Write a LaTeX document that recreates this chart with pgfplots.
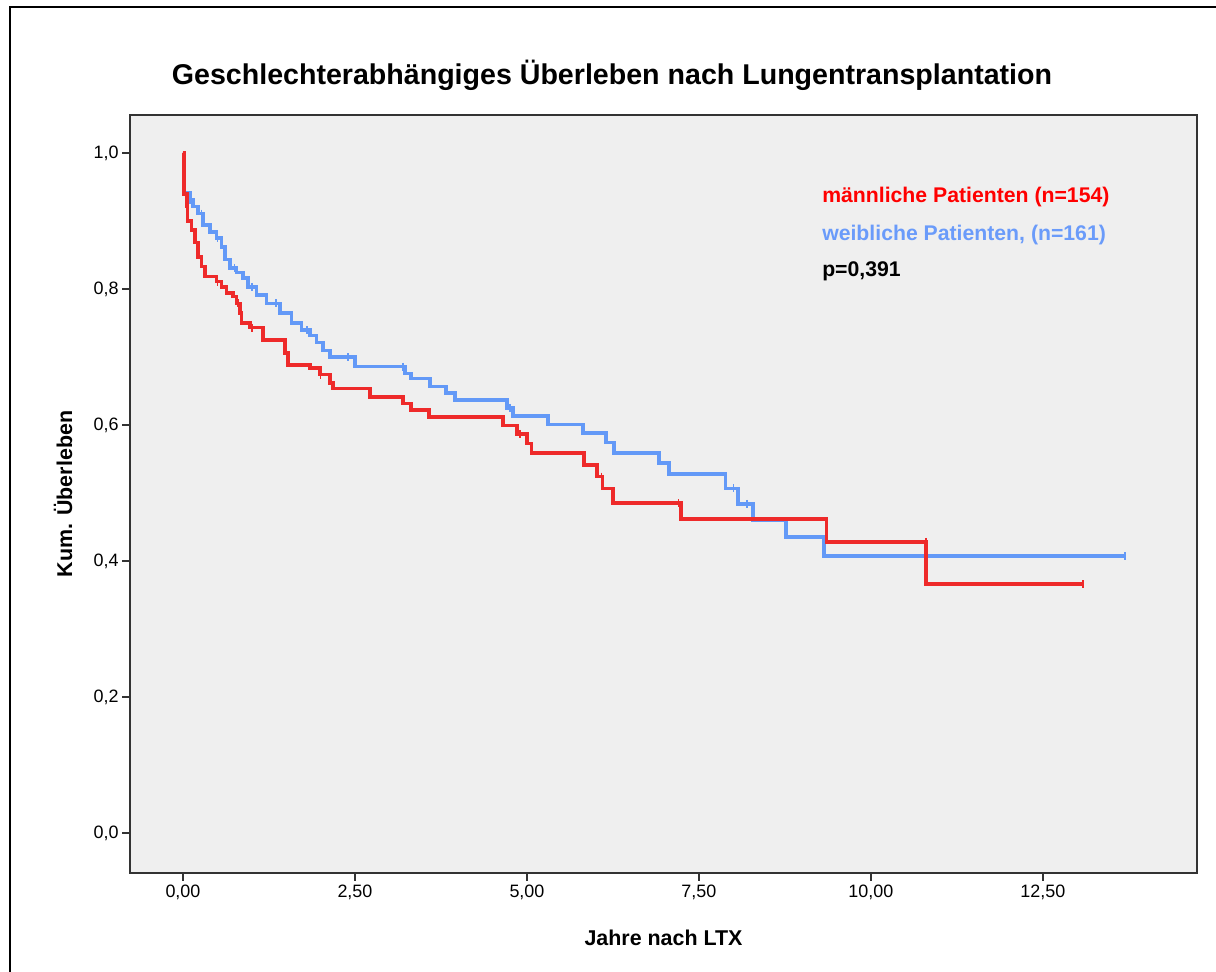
\documentclass[border=0pt]{standalone}
\usepackage{fontspec}
\setmainfont{Liberation Sans}
\usepackage{pgfplots}
\pgfplotsset{compat=1.18}
\definecolor{mred}{HTML}{EE2A2A}
\definecolor{fblue}{HTML}{6399F7}
\definecolor{ltred}{HTML}{FF0000}
\definecolor{ltblue}{HTML}{6A9BFA}
\definecolor{bgc}{HTML}{EFEFEF}
\definecolor{axc}{HTML}{333333}
\begin{document}
\begin{tikzpicture}[x=1bp,y=1bp]
\path[use as bounding box,fill=white] (0,0) rectangle (1216,972);
\draw[line width=2.5bp] (10,0) -- (10,965) -- (1216,965);
\node[font=\bfseries\fontsize{28.7}{34}\selectfont] at (612,897) {Geschlechterabhängiges Überleben nach Lungentransplantation};
\begin{axis}[
  at={(130bp,99bp)}, anchor=south west,
  scale only axis, width=1067bp, height=758bp,
  xmin=-0.77, xmax=14.74, ymin=-0.059, ymax=1.056,
  axis background/.style={fill=bgc},
  axis line style={axc, line width=2bp},
  xtick={0,2.5,5,7.5,10,12.5},
  ytick={0,0.2,0.4,0.6,0.8,1},
  tick align=outside, tick pos=left,
  major tick length=8bp,
  tick style={axc, line width=1.4bp},
  /pgf/number format/assume math mode=true,
  xticklabel style={/pgf/number format/.cd, fixed, fixed zerofill, precision=2, use comma},
  yticklabel style={/pgf/number format/.cd, fixed, fixed zerofill, precision=1, use comma},
  ticklabel style={font=\fontsize{18}{21}\selectfont},
  xlabel={Jahre nach LTX},
  ylabel={Kum. Überleben},
  label style={font=\bfseries\fontsize{21.5}{25}\selectfont},
  xlabel style={at={(axis description cs:0.5,-0.0858)}, anchor=center},
  ylabel style={at={(axis description cs:-0.0628,0.5)}, anchor=center},
]
\addplot[const plot, color=fblue, line width=3.4bp] coordinates {
(0,1.0) (0.005,0.941) (0.10,0.931) (0.145,0.921) (0.218,0.911) (0.29,0.894) (0.39,0.884) (0.49,0.875) (0.563,0.862) (0.61,0.843) (0.683,0.831) (0.78,0.824) (0.872,0.816) (0.945,0.803) (1.07,0.791) (1.217,0.779) (1.41,0.765) (1.58,0.75) (1.725,0.74) (1.846,0.732) (1.943,0.721) (2.035,0.71) (2.137,0.70) (2.50,0.686) (3.227,0.676) (3.314,0.668) (3.59,0.657) (3.823,0.647) (3.953,0.637) (4.709,0.625) (4.797,0.613) (5.305,0.601) (5.814,0.588) (6.148,0.574) (6.265,0.559) (6.919,0.544) (7.064,0.528) (7.89,0.507) (8.067,0.484) (8.285,0.46) (8.765,0.435) (9.317,0.407) (13.69,0.407)
};
\addplot[only marks, mark=|, mark size=4bp, color=fblue, mark options={line width=1.5bp}] coordinates {
(0.1,0.931) (0.27,0.911) (0.5,0.875) (0.75,0.831) (1.0,0.803) (1.35,0.779) (1.8,0.74) (2.4,0.70) (3.2,0.686) (4.75,0.625) (8.2,0.484) (8.0,0.507) (13.69,0.407)
};
\addplot[const plot, color=mred, line width=3.4bp] coordinates {
(0,1.0) (0.015,0.94) (0.058,0.921) (0.07,0.90) (0.126,0.887) (0.174,0.868) (0.218,0.847) (0.272,0.833) (0.32,0.818) (0.49,0.811) (0.563,0.803) (0.635,0.794) (0.727,0.789) (0.78,0.779) (0.83,0.765) (0.853,0.75) (0.974,0.743) (1.163,0.725) (1.483,0.706) (1.526,0.688) (1.846,0.684) (1.99,0.674) (2.137,0.662) (2.18,0.654) (2.718,0.641) (3.198,0.632) (3.314,0.622) (3.576,0.612) (4.651,0.599) (4.855,0.587) (5.0,0.573) (5.07,0.559) (5.83,0.541) (6.02,0.524) (6.10,0.507) (6.25,0.485) (7.24,0.462) (9.35,0.428) (10.8,0.366) (13.08,0.366)
};
\addplot[only marks, mark=|, mark size=4bp, color=mred, mark options={line width=1.5bp}] coordinates {
(0,0.994) (0.2,0.868) (0.5,0.811) (0.8,0.779) (1.0,0.743) (2.0,0.674) (4.9,0.587) (6.08,0.524) (7.2,0.485) (10.8,0.428) (13.08,0.366)
};
\node[anchor=west, inner sep=0pt, font=\bfseries\fontsize{21.3}{25}\selectfont, text=ltred] at (axis cs:9.29,0.935) {männliche Patienten (n=154)};
\node[anchor=west, inner sep=0pt, font=\bfseries\fontsize{21.3}{25}\selectfont, text=ltblue] at (axis cs:9.29,0.879) {weibliche Patienten, (n=161)};
\node[anchor=west, inner sep=0pt, font=\bfseries\fontsize{21.3}{25}\selectfont, text=black] at (axis cs:9.29,0.826) {p=0,391};
\end{axis}
\end{tikzpicture}
\end{document}
